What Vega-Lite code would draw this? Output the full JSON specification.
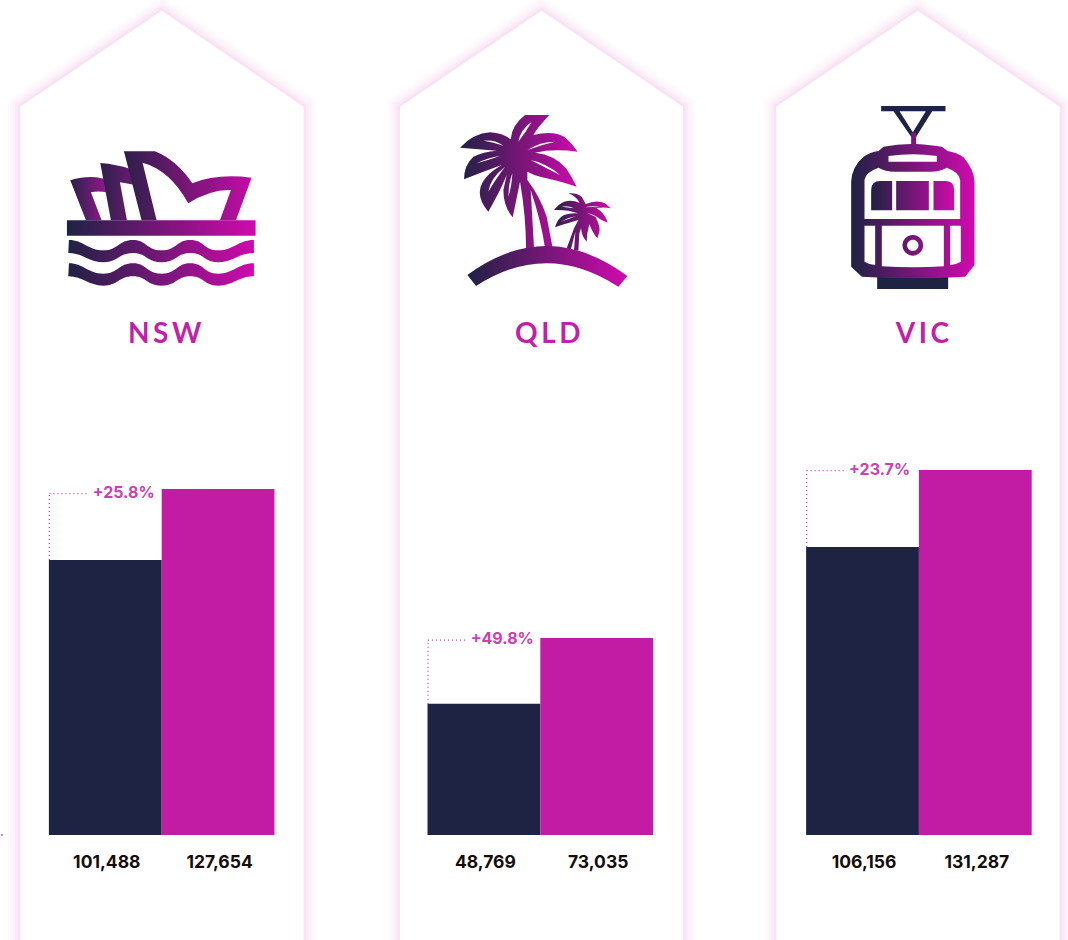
{
"$schema":"https://vega.github.io/schema/vega-lite/v6.json",
"width":1068,"height":940,"padding":0,"autosize":{"type":"none"},"background":"white",
"config":{"view":{"stroke":null}},
"datasets":{
"bars":[
{"state":"NSW","period":"earlier","value":101488,"drawn":101488},
{"state":"NSW","period":"later","value":127654,"drawn":127654},
{"state":"QLD","period":"earlier","value":48769,"drawn":48400},
{"state":"QLD","period":"later","value":73035,"drawn":72680},
{"state":"VIC","period":"earlier","value":106156,"drawn":106250},
{"state":"VIC","period":"later","value":131287,"drawn":134660}],
"states":[
{"state":"NSW","name":"N\u2009S\u2009W","change":"+25.8%","earlier":101488,"level":125992},
{"state":"QLD","name":"Q\u2009L\u2009D","change":"+49.8%","earlier":48400,"level":71942},
{"state":"VIC","name":"V\u2009I\u2009C","change":"+23.7%","earlier":106250,"level":134477}]
},
"data":{"name":"states"},
"encoding":{
"x":{"field":"state","type":"nominal","axis":null,"scale":{"type":"band","domain":["NSW","QLD","VIC"],"range":[48.9,1031.7],"paddingInner":0.40423,"paddingOuter":0}}
},
"layer":[
{"encoding":{
"y":{"datum":0,"type":"quantitative","axis":null,"scale":{"domain":[-38745,308118]}},
"shape":{"field":"state","type":"nominal","legend":null,"scale":{"domain":["NSW","QLD","VIC"],"range":["M-0.05,-824.3 L141.95,-728.3 V130 H-141.45 V-728.3 Z","M1.25,-824.3 L142.75,-728.3 V130 H-140.25 V-728.3 Z","M-1.25,-824.3 L140.75,-728.3 V130 H-142.75 V-728.3 Z"]}}
},
"layer":[
{"mark":{"type":"point","size":4,"filled":false,"fill":null,"stroke":"#c21ca4","strokeWidth":25,"opacity":0.014}},
{"mark":{"type":"point","size":4,"filled":false,"fill":null,"stroke":"#c21ca4","strokeWidth":20,"opacity":0.02}},
{"mark":{"type":"point","size":4,"filled":false,"fill":null,"stroke":"#c21ca4","strokeWidth":15,"opacity":0.025}},
{"mark":{"type":"point","size":4,"filled":false,"fill":null,"stroke":"#c21ca4","strokeWidth":10,"opacity":0.03}},
{"mark":{"type":"point","size":4,"filled":false,"fill":null,"stroke":"#c21ca4","strokeWidth":5,"opacity":0.04}},
{"mark":{"type":"point","size":4,"filled":true,"fill":"white","opacity":1}},

{"transform":[{"filter":"datum.state==='NSW'"}],"encoding":{"shape":{"value":"M211,541 Q265,525 305,535 L318,538 L325,578 Q295,572 273,577 L305,661 L258,661 Z"}},"mark":{"type":"point","filled":true,"size":0.4444,"opacity":1,"strokeWidth":0,"xOffset":-161.75,"yOffset":-835,"fill":{"gradient":"linear","x1":0,"x2":1,"y1":0,"y2":0,"stops":[{"offset":0,"color":"#2b2048"},{"offset":1,"color":"#9a1890"}]}}},
{"transform":[{"filter":"datum.state==='NSW'"}],"encoding":{"shape":{"value":"M301,489 Q350,493 392,507 L405,555 Q382,550 360,547 L381,661 L333,661 Z"}},"mark":{"type":"point","filled":true,"size":0.4444,"opacity":1,"strokeWidth":0,"xOffset":-161.75,"yOffset":-835,"fill":{"gradient":"linear","x1":0,"x2":1,"y1":0,"y2":0,"stops":[{"offset":0,"color":"#2b2048"},{"offset":1,"color":"#6e1a75"}]}}},
{"transform":[{"filter":"datum.state==='NSW'"}],"encoding":{"shape":{"value":"M372,454 L465,454 Q530,480 577,550 Q650,520 755,533 L708,661 L660,661 L693,570 Q630,568 565,610 Q510,510 428,488 L470,661 L425,661 Z"}},"mark":{"type":"point","filled":true,"size":0.4444,"opacity":1,"strokeWidth":0,"xOffset":-161.75,"yOffset":-835,"fill":{"gradient":"linear","x1":0,"x2":1,"y1":0,"y2":0,"stops":[{"offset":0,"color":"#2b2048"},{"offset":1,"color":"#c40ca6"}]}}},
{"transform":[{"filter":"datum.state==='NSW'"}],"encoding":{"shape":{"value":"M201,661 H767 V707 H201 Z M207,720 C250,720 265,751 310,751 C355,751 355,720 400,720 C440,720 440,751 485,751 C530,751 530,720 570,720 C615,720 610,751 655,751 C700,751 715,720 762,720 L762,759 C715,759 700,787 655,787 C610,787 615,759 570,759 C530,759 530,787 485,787 C440,787 440,759 400,759 C355,759 355,787 310,787 C265,787 250,759 205,759 Z M207,790 C250,790 265,821 310,821 C355,821 355,790 400,790 C440,790 440,821 485,821 C530,821 530,790 570,790 C615,790 610,821 655,821 C700,821 715,790 762,790 L762,829 C715,829 700,857 655,857 C610,857 615,829 570,829 C530,829 530,857 485,857 C440,857 440,829 400,829 C355,829 355,857 310,857 C265,857 250,829 205,829 Z"}},"mark":{"type":"point","filled":true,"size":0.4444,"opacity":1,"strokeWidth":0,"xOffset":-161.75,"yOffset":-835,"fill":{"gradient":"linear","x1":0,"x2":1,"y1":0,"y2":0,"stops":[{"offset":0,"color":"#1e2243"},{"offset":1,"color":"#d00aae"}]}}},

{"transform":[{"filter":"datum.state==='QLD'"}],"encoding":{"shape":{"value":"M255,45 L328,45 Q290,85 280,105 Q340,90 375,112 Q395,130 413,155 Q340,145 285,158 Q345,165 378,205 Q398,235 410,260 Q350,240 300,230 Q280,225 262,215 L262,240 Q300,290 320,350 L338,445 L315,445 Q305,370 272,270 L282,445 L258,445 Q258,350 240,245 L218,352 Q190,320 190,270 L200,225 Q185,260 175,280 L145,335 Q115,300 120,270 Q125,230 185,195 L130,215 L72,238 Q72,195 100,170 Q130,155 170,152 L60,143 Q100,100 150,97 Q190,100 212,118 Q215,75 255,45 Z"}},"mark":{"type":"point","filled":true,"size":0.4444,"opacity":1,"strokeWidth":0,"xOffset":-100.25,"yOffset":-735,"fill":{"gradient":"linear","x1":0,"x2":1,"y1":0,"y2":0,"stops":[{"offset":0,"color":"#1e2243"},{"offset":1,"color":"#cc0aaa"}]}}},
{"transform":[{"filter":"datum.state==='QLD'"}],"encoding":{"shape":{"value":"M385,280 Q410,278 425,290 L437,312 Q470,298 495,310 L512,325 Q490,320 470,325 Q495,340 503,368 Q485,362 465,348 Q482,380 478,395 L472,415 Q458,400 448,372 Q440,400 440,425 Q425,410 423,385 L418,400 L415,452 L402,450 L406,395 L392,450 L380,445 L402,385 L415,360 Q385,368 345,382 Q352,355 372,345 Q390,338 415,340 Q380,328 342,330 Q355,312 372,305 Q395,298 418,308 Q410,290 385,280 Z"}},"mark":{"type":"point","filled":true,"size":0.4444,"opacity":1,"strokeWidth":0,"xOffset":-100.25,"yOffset":-735,"fill":{"gradient":"linear","x1":0,"x2":1,"y1":0,"y2":0,"stops":[{"offset":0,"color":"#2b2048"},{"offset":1,"color":"#cc0aaa"}]}}},
{"transform":[{"filter":"datum.state==='QLD'"}],"encoding":{"shape":{"value":"M82,525 Q320,350 562,528 L535,560 Q320,420 108,558 Z"}},"mark":{"type":"point","filled":true,"size":0.4444,"opacity":1,"strokeWidth":0,"xOffset":-100.25,"yOffset":-735,"fill":{"gradient":"linear","x1":0,"x2":1,"y1":0,"y2":0,"stops":[{"offset":0,"color":"#1e2243"},{"offset":1,"color":"#d00aae"}]}}},
{"transform":[{"filter":"datum.state==='QLD'"}],"encoding":{"shape":{"value":"M235,125 Q240,90 275,65 Q258,95 235,125 Z M130,122 Q165,118 190,137 Q155,125 130,122 Z M110,190 Q145,172 180,168 Q145,180 110,190 Z M145,275 Q150,235 195,200 Q165,240 145,275 Z M205,290 Q205,250 217,220 Q215,260 205,290 Z M262,150 Q300,125 345,125 Q300,135 262,150 Z M272,180 Q320,190 360,225 Q320,205 272,180 Z M362,365 Q385,352 408,348 Q385,358 362,365 Z M365,320 Q385,316 402,325 Q385,322 365,320 Z M435,322 Q458,315 482,322 Q458,320 435,322 Z M440,338 Q465,345 478,355 Q460,348 440,338 Z"}},"mark":{"type":"point","filled":true,"size":0.4444,"opacity":1,"strokeWidth":0,"xOffset":-100.25,"yOffset":-735,"fill":"white"}},

{"transform":[{"filter":"datum.state==='VIC'"}],"encoding":{"shape":{"value":"M153,33 H346 V49 H306 L258,125 H243 L190,49 H153 Z M141,540 H354 V582 H141 Z"}},"mark":{"type":"point","filled":true,"size":0.4444,"opacity":1,"strokeWidth":0,"xOffset":-88.75,"yOffset":-740,"fill":"#1e2243"}},
{"transform":[{"filter":"datum.state==='VIC'"}],"encoding":{"shape":{"value":"M208,49 H287 L248,112 Z"}},"mark":{"type":"point","filled":true,"size":0.4444,"opacity":1,"strokeWidth":0,"xOffset":-88.75,"yOffset":-740,"fill":"white"}},
{"transform":[{"filter":"datum.state==='VIC'"}],"encoding":{"shape":{"value":"M243,113 L258,113 L258,147 Q305,150 335,155 L352,168 Q380,172 400,187 Q432,225 433,260 L433,510 L405,545 Q250,555 95,545 L63,515 L63,260 Q65,215 100,185 Q120,172 145,168 L160,155 Q200,148 243,147 Z"}},"mark":{"type":"point","filled":true,"size":0.4444,"opacity":1,"strokeWidth":0,"xOffset":-88.75,"yOffset":-740,"fill":{"gradient":"linear","x1":0,"x2":1,"y1":0,"y2":0,"stops":[{"offset":0,"color":"#1e2243"},{"offset":1,"color":"#d00aae"}]}}},
{"transform":[{"filter":"datum.state==='VIC'"}],"encoding":{"shape":{"value":"M103,372 V255 Q105,232 145,218 Q165,230 195,230 H300 Q330,230 350,218 Q388,232 390,255 V372 Z M103,392 H135 V510 Q115,508 103,500 Z M155,392 H341 V514 Q250,520 155,514 Z M360,392 H392 V500 Q380,508 360,510 Z M175,183 Q250,172 320,183 V200 H175 Z"}},"mark":{"type":"point","filled":true,"size":0.4444,"opacity":1,"strokeWidth":0,"xOffset":-88.75,"yOffset":-740,"fill":"white"}},
{"transform":[{"filter":"datum.state==='VIC'"}],"encoding":{"shape":{"value":"M123,346 L123,285 Q123,258 150,258 L186,258 L186,346 Z M198,258 H296 V346 H198 Z M310,258 H345 Q372,258 372,285 V346 H310 Z M217,451 A31,31 0 1 1 279,451 A31,31 0 1 1 217,451 Z M231,451 A17,17 0 1 0 265,451 A17,17 0 1 0 231,451 Z"}},"mark":{"type":"point","filled":true,"size":0.4444,"opacity":1,"strokeWidth":0,"xOffset":-88.75,"yOffset":-740,"fill":{"gradient":"linear","x1":0,"x2":1,"y1":0,"y2":0,"stops":[{"offset":0,"color":"#1e2243"},{"offset":1,"color":"#cc0aaa"}]}}},

{"transform":[{"filter":"datum.state==='NSW'"}],"encoding":{"shape":{"value":"square"},"x":{"field":"state","type":"nominal","bandPosition":0,"axis":null}},"mark":{"type":"point","filled":true,"size":3,"opacity":1,"strokeWidth":0,"fill":"#cf3fb0","xOffset":-47}}
]},

{"encoding":{"text":{"field":"name","type":"nominal"},"y":{"datum":0,"type":"quantitative","axis":null,"scale":{"domain":[-38745,308118]}}},"mark":{"type":"text","font":"Lato","fontWeight":700,"fontSize":28,"color":"#c41fa8","baseline":"middle","dy":-500.5,"dx":{"expr":"datum.state==='QLD'?7.5:datum.state==='VIC'?3.5:3"}}},

{"data":{"name":"bars"},"encoding":{"xOffset":{"field":"period","type":"nominal","sort":["earlier","later"],"scale":{"paddingInner":0,"paddingOuter":0}},"y":{"field":"drawn","type":"quantitative","axis":null,"scale":{"domain":[-38745,308118]}},"color":{"field":"period","type":"nominal","legend":null,"scale":{"domain":["earlier","later"],"range":["#1e2243","#c21ca4"]}}},"mark":{"type":"bar"}},
{"data":{"name":"bars"},"encoding":{"xOffset":{"field":"period","type":"nominal","sort":["earlier","later"],"scale":{"paddingInner":0,"paddingOuter":0}},"y":{"datum":0,"type":"quantitative","axis":null,"scale":{"domain":[-38745,308118]}},"text":{"field":"value","type":"quantitative","format":","}},"mark":{"type":"text","font":"Inter","fontWeight":700,"fontSize":17.5,"color":"#140d0c","baseline":"middle","dy":27.5,"dx":1.5}},

{"encoding":{"x":{"field":"state","type":"nominal","bandPosition":0,"axis":null},"y":{"field":"earlier","type":"quantitative","axis":null,"scale":{"domain":[-38745,308118]}},"y2":{"field":"level"}},"mark":{"type":"rule","color":"#cf3fb0","strokeWidth":1.3,"strokeDash":[1,3],"xOffset":0.5}},
{"encoding":{"shape":{"value":"M0,0 H38"},"x":{"field":"state","type":"nominal","bandPosition":0,"axis":null},"y":{"field":"level","type":"quantitative","axis":null,"scale":{"domain":[-38745,308118]}}},"mark":{"type":"point","size":4,"filled":false,"fill":null,"stroke":"#cf3fb0","strokeWidth":1.3,"strokeDash":[1,3],"opacity":1,"xOffset":0.5}},
{"encoding":{"y":{"field":"level","type":"quantitative","axis":null,"scale":{"domain":[-38745,308118]}},"text":{"field":"change","type":"nominal"}},"mark":{"type":"text","font":"Inter","fontWeight":700,"fontSize":16,"color":"#cf3fb0","align":"right","baseline":"middle","dy":-1,"dx":{"expr":"datum.state==='VIC'?-8.75:datum.state==='QLD'?-6.5:-7"}}}
]
}
